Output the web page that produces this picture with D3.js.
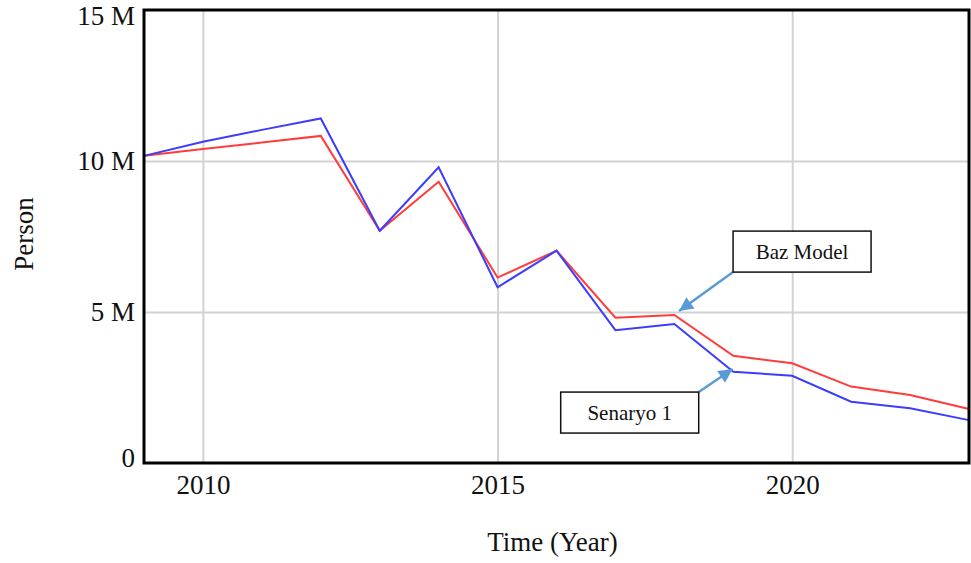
<!DOCTYPE html>
<html>
<head>
<meta charset="utf-8">
<script src="https://cdn.jsdelivr.net/npm/d3@7"></script>
<style>
  body { margin: 0; background: #fff; }
  svg { display: block; font-family: "Liberation Serif", "Times New Roman", serif; }
</style>
</head>
<body>
<svg id="chart" width="971" height="563"></svg>
<script>
const years = [2009, 2010, 2011, 2012, 2013, 2014, 2015, 2016, 2017, 2018, 2019, 2020, 2021, 2022, 2023];
const bazModel = [10.17, 10.40, 10.61, 10.83, 7.69, 9.31, 6.14, 7.03, 4.81, 4.90, 3.55, 3.30, 2.53, 2.25, 1.79];
const senaryo1 = [10.17, 10.64, 11.03, 11.41, 7.69, 9.79, 5.82, 7.03, 4.40, 4.60, 3.02, 2.89, 2.03, 1.81, 1.42];
const xTicks = [2010, 2015, 2020];
const yTicks = [0, 5, 10, 15];
const noteLabels = ["Baz Model", "Senaryo 1"];
const noteTargets = [[2018.08, 5.03], [2018.99, 3.11]];

const margin = {top: 10, right: 2, bottom: 100, left: 144};
const width = 971 - margin.left - margin.right;
const height = 563 - margin.top - margin.bottom;

const svg = d3.select('#chart');

const x = d3.scaleLinear().domain([2009, 2023]).range([0, width]);
const y = d3.scaleLinear().domain([0, 15]).range([height, 0]);

const chart = svg.append('g')
    .attr('transform', `translate(${margin.left},${margin.top})`);

// grid
chart.append('g')
    .attr('transform', `translate(0,${height})`)
    .call(d3.axisBottom(x).tickValues(xTicks).tickSize(-height).tickFormat(''))
    .call(g => g.select('.domain').remove())
    .call(g => g.selectAll('line').attr('stroke', '#d2d2d2').attr('stroke-width', 2));

chart.append('g')
    .call(d3.axisLeft(y).tickValues([5, 10]).tickSize(-width).tickFormat(''))
    .call(g => g.select('.domain').remove())
    .call(g => g.selectAll('line').attr('stroke', '#d2d2d2').attr('stroke-width', 2));

// lines
const line = d3.line()
    .x((d, i) => x(years[i]))
    .y(d => y(d));

chart.append('path')
    .datum(bazModel)
    .attr('fill', 'none')
    .attr('stroke', '#ff3c3c')
    .attr('stroke-width', 2)
    .attr('d', line);

chart.append('path')
    .datum(senaryo1)
    .attr('fill', 'none')
    .attr('stroke', '#3c3cff')
    .attr('stroke-width', 2)
    .attr('d', line);

// frame
chart.append('rect')
    .attr('width', width)
    .attr('height', height)
    .attr('fill', 'none')
    .attr('stroke', '#000')
    .attr('stroke-width', 3);

// axes labels
const xAxisG = chart.append('g')
    .attr('transform', `translate(0,${height})`)
    .call(d3.axisBottom(x).tickValues(xTicks).tickSize(0).tickPadding(12).tickFormat(d3.format('d')))
    .call(g => g.select('.domain').remove());
xAxisG.selectAll('text')
    .attr('font-family', '"Liberation Serif", serif')
    .attr('font-size', 27)
    .attr('fill', '#111');

const yAxisG = chart.append('g')
    .call(d3.axisLeft(y).tickValues(yTicks).tickSize(0).tickPadding(9)
        .tickFormat(d => d === 0 ? '0' : d + ' M'))
    .call(g => g.select('.domain').remove());
yAxisG.selectAll('text')
    .attr('font-family', '"Liberation Serif", serif')
    .attr('font-size', 27)
    .attr('fill', '#111')
    .attr('dy', d => d === 0 ? '0.12em' : d === 15 ? '0.55em' : '0.32em');

svg.append('text')
    .attr('x', margin.left + width / 2 - 4)
    .attr('y', 551)
    .attr('text-anchor', 'middle')
    .attr('font-size', 27)
    .attr('fill', '#111')
    .text('Time (Year)');

svg.append('text')
    .attr('transform', `translate(33,234) rotate(-90)`)
    .attr('text-anchor', 'middle')
    .attr('font-size', 27)
    .attr('fill', '#111')
    .text('Person');

// annotations
svg.append('defs').append('marker')
    .attr('id', 'arrow')
    .attr('viewBox', '0 0 10 10')
    .attr('refX', 10)
    .attr('refY', 5)
    .attr('markerWidth', 16)
    .attr('markerHeight', 14)
    .attr('markerUnits', 'userSpaceOnUse')
    .attr('orient', 'auto')
    .append('path')
    .attr('d', 'M0,0L10,5L0,10z')
    .attr('fill', '#5b9bd5');

const boxW = 138, boxH = 41;
// box corner offsets from arrow tip, in pixels
const boxOffsets = [{dx: 54, dy: -80, cx: 0, cy: boxH}, {dx: -172, dy: 23, cx: boxW, cy: 0}];

noteLabels.forEach((label, i) => {
    const tx = margin.left + x(noteTargets[i][0]);
    const ty = margin.top + y(noteTargets[i][1]);
    const bx = tx + boxOffsets[i].dx;
    const by = ty + boxOffsets[i].dy;
    svg.append('line')
        .attr('x1', bx + boxOffsets[i].cx)
        .attr('y1', by + boxOffsets[i].cy)
        .attr('x2', tx)
        .attr('y2', ty)
        .attr('stroke', '#5b9bd5')
        .attr('stroke-width', 2.5)
        .attr('marker-end', 'url(#arrow)');
    svg.append('rect')
        .attr('x', bx)
        .attr('y', by)
        .attr('width', boxW)
        .attr('height', boxH)
        .attr('fill', '#fff')
        .attr('stroke', '#111')
        .attr('stroke-width', 1.5);
    svg.append('text')
        .attr('x', bx + boxW / 2)
        .attr('y', by + boxH / 2)
        .attr('dy', '0.35em')
        .attr('text-anchor', 'middle')
        .attr('font-size', 21)
        .attr('fill', '#111')
        .text(label);
});
</script>
</body>
</html>
